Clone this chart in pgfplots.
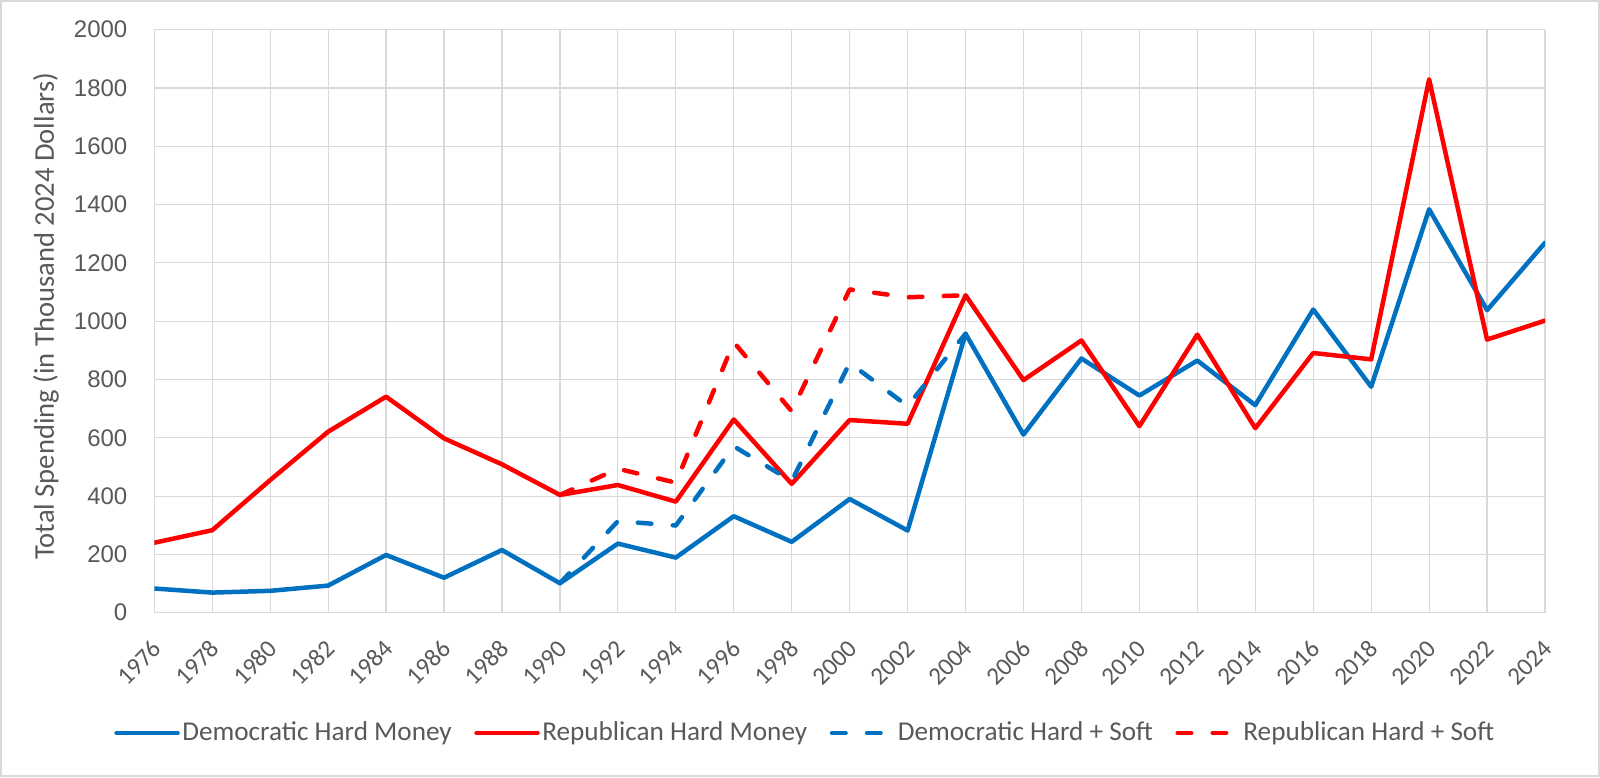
\documentclass[border=0pt]{standalone}
\usepackage{pgfplots}
\pgfplotsset{compat=1.18}
\usepackage{fontspec}
\setmainfont{Carlito}
\newfontfamily\tickfont{Liberation Sans}

\definecolor{dblue}{HTML}{0070C0}
\definecolor{rred}{HTML}{FF0000}
\definecolor{txt}{HTML}{595959}
\definecolor{gridc}{HTML}{D9D9D9}

\begin{document}
\begin{tikzpicture}[x=1pt,y=1pt]
\path[use as bounding box] (0,0) rectangle (800,388.5);
\draw[gridc, line width=0.6pt] (0.5,0.5) rectangle (799.5,388);
\begin{axis}[
	at={(77.15pt,82.15pt)},
	anchor=south west,
	scale only axis,
	width=695.35pt,
	height=291.5pt,
	xmin=1976, xmax=2024,
	ymin=0, ymax=2000,
	xtick={1976,1978,...,2024},
	ytick={0,200,...,2000},
	/pgf/number format/1000 sep={},
	/pgf/number format/assume math mode=true,
	xmajorgrids, ymajorgrids,
	grid style={gridc, line width=0.6pt},
	axis line style={draw=none},
	major tick style={draw=none},
	xticklabel style={font=\fontsize{12.5}{14}\selectfont, text=txt, inner sep=0pt, xshift=1.5pt, yshift=-16pt, rotate=45, anchor=east},
	yticklabel style={font=\tickfont\fontsize{12}{14}\selectfont, text=txt, inner sep=0pt, xshift=-13.3pt},
	ylabel={Total Spending (in Thousand 2024 Dollars)},
	ylabel style={font=\fontsize{14.3}{16}\selectfont, text=txt, at={(axis description cs:-0.0779,0.5086)}, anchor=center},
	legend columns=4,
	legend style={at={(325.6pt,-60.15pt)}, anchor=center, draw=none, fill=none,
		font=\fontsize{13.6}{16}\selectfont, text=txt,
		nodes={inner xsep=1.25pt},
		/tikz/every even column/.append style={column sep=10pt}},
	legend image code/.code={\draw[#1] (0.5pt,0pt) -- (31pt,0pt);},
	every axis plot/.append style={line width=2.25pt, line join=round, line cap=round},
]
\addplot[dblue] coordinates {
(1976,83) (1978,69) (1980,75) (1982,93) (1984,198) (1986,120) (1988,215)
(1990,101) (1992,237) (1994,189) (1996,331) (1998,243) (2000,390) (2002,282)
(2004,957) (2006,611) (2008,872) (2010,745) (2012,865) (2014,712) (2016,1040)
(2018,775) (2020,1384) (2022,1038) (2024,1269)};
\addlegendentry{Democratic Hard Money}
\addplot[rred] coordinates {
(1976,240) (1978,283) (1980,455) (1982,621) (1984,741) (1986,598) (1988,509)
(1990,404) (1992,438) (1994,381) (1996,663) (1998,442) (2000,661) (2002,648)
(2004,1089) (2006,798) (2008,934) (2010,640) (2012,954) (2014,633) (2016,891)
(2018,869) (2020,1830) (2022,937) (2024,1002)};
\addlegendentry{Republican Hard Money}
\addplot[dblue, dash pattern=on 6.75pt off 10.75pt] coordinates {
(1990,101) (1992,314) (1994,299) (1996,571) (1998,451) (2000,857) (2002,709) (2004,957)};
\addlegendentry{Democratic Hard + Soft}
\addplot[rred, dash pattern=on 6.75pt off 10.75pt] coordinates {
(1990,404) (1992,494) (1994,446) (1996,928) (1998,691) (2000,1109) (2002,1082) (2004,1089)};
\addlegendentry{Republican Hard + Soft}
\end{axis}
\end{tikzpicture}
\end{document}
